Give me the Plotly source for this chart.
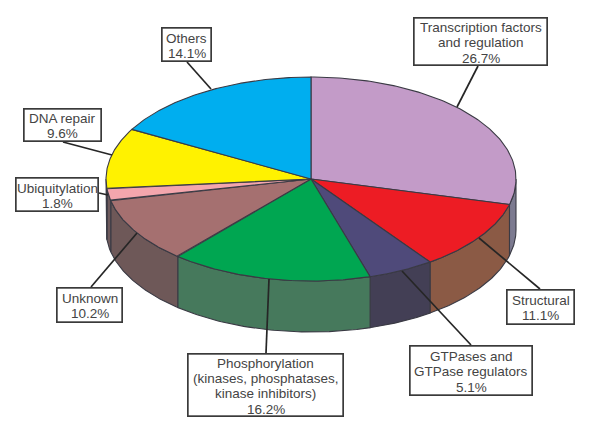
import numpy as np
import plotly.graph_objects as go

# Data: categories, label percentages, and slice shares as drawn in the picture
categories = ["Transcription factors<br>and regulation", "Structural", "GTPases and<br>GTPase regulators",
              "Phosphorylation<br>(kinases, phosphatases,<br>kinase inhibitors)", "Unknown", "Ubiquitylation",
              "DNA repair", "Others"]
label_pct = ["26.7%", "11.1%", "5.1%", "16.2%", "10.2%", "1.8%", "9.6%", "14.1%"]
drawn_share = [29.0, 11.1, 5.2, 15.9, 10.3, 1.9, 9.6, 16.9]

# Styles
top_colors = ["#c39bc8", "#ed1c24", "#4f4a7a", "#00a651", "#a57070", "#f4a6ad", "#fff200", "#00aeef"]
side_colors = ["#7c7a90", "#8b5a45", "#433f55", "#46795c", "#6e5858", "#6e5a5c", "#6e5a5c", "#6e5a5c"]
EDGE = "#3a3a44"
TEXT = "#444444"
LINE_STEP = 15.3
TEXT_DY = 1.3

# Pie geometry in pixel units
CX, CY, RX, RY, DEPTH = 311, 179, 205, 102, 51


def rim(theta_deg, depth=0):
    t = np.radians(theta_deg)
    return CX + RX * np.sin(t), CY - RY * np.cos(t) + depth


fig = go.Figure()
edges = np.concatenate([[0], np.cumsum(drawn_share)]) / sum(drawn_share) * 360


def poly(x, y, fill):
    fig.add_trace(go.Scatter(x=x, y=y, mode="lines", fill="toself", fillcolor=fill,
                             line=dict(color=EDGE, width=1.1), hoverinfo="skip", showlegend=False))


# Side walls (only the front half of the rim is visible)
for i in range(len(drawn_share)):
    a, b = max(edges[i], 90), min(edges[i + 1], 270)
    if a >= b:
        continue
    th = np.linspace(a, b, 60)
    x1, y1 = rim(th)
    x2, y2 = rim(th[::-1], DEPTH)
    poly(np.r_[x1, x2, x1[0]], np.r_[y1, y2, y1[0]], side_colors[i])

# Top face
for i in range(len(drawn_share)):
    th = np.linspace(edges[i], edges[i + 1], 120)
    x, y = rim(th)
    poly(np.r_[CX, x, CX], np.r_[CY, y, CY], top_colors[i])

# Label boxes (left, top, right, bottom) and leader lines, in pixels
boxes = [(413, 17, 548, 66), (506, 289, 575, 325), (409, 345, 533, 396), (187, 353, 344, 417),
         (56, 287, 123, 323), (15, 177, 99, 212), (23, 108, 102, 142), (161, 27, 212, 62)]
leaders = [((478, 66), (457, 107)), ((540, 289), (479, 238)), ((471, 345), (402, 271)), ((266, 353), (269, 279)),
           ((91, 287), (137, 233)), ((99, 193), (108, 195)), ((63, 142), (112, 155)), ((187, 62), (211, 89))]

for (p, q) in leaders:
    fig.add_trace(go.Scatter(x=[p[0], q[0]], y=[p[1], q[1]], mode="lines",
                             line=dict(color="#262626", width=1.7), hoverinfo="skip", showlegend=False))

annotations = []
for cat, pct, (l, t, r, b) in zip(categories, label_pct, boxes):
    annotations.append(dict(
        x=(l + r) / 2, y=(t + b) / 2, xref="x", yref="y", showarrow=False, text=" ",
        width=r - l - 3, height=b - t - 3, borderpad=0, borderwidth=1.7,
        bordercolor="#3a3a3a", bgcolor="white"))
    lines = cat.split("<br>") + [pct]
    for k, line in enumerate(lines):
        annotations.append(dict(
            x=(l + r) / 2, y=(t + b) / 2 + TEXT_DY + (k - (len(lines) - 1) / 2) * LINE_STEP,
            xref="x", yref="y", showarrow=False, text=line, align="center", yanchor="middle",
            font=dict(family="Liberation Sans", size=13.5, color=TEXT)))

fig.update_layout(
    width=600, height=442, autosize=False, margin=dict(l=0, r=0, t=0, b=0),
    paper_bgcolor="white", plot_bgcolor="white", showlegend=False, annotations=annotations,
    xaxis=dict(range=[0, 600], visible=False, fixedrange=True),
    yaxis=dict(range=[442, 0], visible=False, fixedrange=True),
)
fig.write_html("out.html", config=dict(displayModeBar=False),
               post_script="document.body.style.margin='0';document.documentElement.style.overflow='hidden';")
